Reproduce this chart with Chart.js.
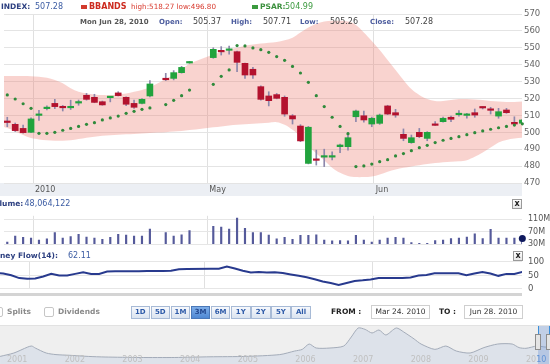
<!DOCTYPE html>
<html>
<head>
<meta charset="utf-8">
<script src="https://cdn.jsdelivr.net/npm/chart.js@4.4.1/dist/chart.umd.min.js"></script>
<style>
  html, body { margin:0; padding:0; background:#fff; }
  body { width:550px; height:364px; overflow:hidden; position:relative; font-family:"DejaVu Sans", Verdana, sans-serif; }
  canvas { position:absolute; left:0; z-index:2; }
  .t { position:absolute; white-space:nowrap; line-height:10px; z-index:5; }
  .b { font-weight:bold; font-size:7.5px; }
  .v { font-size:8px; }
  .btn { position:absolute; top:305.5px; width:19.5px; height:13px; box-sizing:border-box; border:1px solid #a7bad6;
         background:linear-gradient(#f6f8fc,#dbe4f0); color:#2d5aa8; font-weight:bold; font-size:7px; line-height:11px; text-align:center; z-index:5; }
  .btn.sel { background:linear-gradient(#7eaee8,#4f88d4); border-color:#4a78b8; color:#23488f; }
  .box { position:absolute; top:305px; height:14px; box-sizing:border-box; border:1px solid #cfcfcf; background:#fff; font-size:7.5px; line-height:12px; color:#333; text-align:center; z-index:5; }
  .xb { position:absolute; width:10px; height:10px; box-sizing:border-box; border:1px solid #9a9a9a; background:linear-gradient(#fff,#e6e6e6); font-size:8px; font-weight:bold; line-height:8px; text-align:center; color:#222; z-index:5; }
  .chk { position:absolute; top:307px; width:10px; height:10px; box-sizing:border-box; border:1px solid #c6c6c6; border-radius:2px; background:#fff; z-index:5; }
</style>
</head>
<body>
<div style="position:absolute;left:0;top:183px;width:522px;height:13px;background:#eceff4;z-index:1"></div>
<div style="position:absolute;left:0;top:293px;width:522px;height:3px;background:#d4d4d4;z-index:1"></div>
<div style="position:absolute;left:0;top:325px;width:550px;height:39px;background:#efefef;border-top:1px solid #e2e2e2;z-index:1"></div>

<canvas id="main" width="550" height="196" style="top:0"></canvas>
<canvas id="vol" width="550" height="50" style="top:205px"></canvas>
<canvas id="mf" width="550" height="50" style="top:250px"></canvas>
<canvas id="nav" width="550" height="39" style="top:325px"></canvas>

<!-- header row 1 -->
<span class="t b" style="left:1px;top:1.7px;color:#2c3f80">INDEX:</span>
<span class="t v" style="left:35px;top:1.7px;color:#3c5ca3">507.28</span>
<span style="position:absolute;left:81px;top:4.5px;width:6px;height:4px;background:#d23a2c;z-index:5"></span>
<span class="t b" style="left:89px;top:1.7px;color:#cc2b1f;font-size:8px">BBANDS</span>
<span class="t" style="left:131px;top:1.7px;color:#d8392d;font-size:7.2px">high:518.27 low:496.80</span>
<span style="position:absolute;left:252px;top:4.5px;width:6px;height:4px;background:#3b9a3e;z-index:5"></span>
<span class="t b" style="left:260px;top:1.7px;color:#3a8f3c">PSAR:</span>
<span class="t v" style="left:285px;top:1.7px;color:#3d9a40">504.99</span>

<!-- header row 2 -->
<span class="t" style="left:80px;top:16.7px;color:#555;font-weight:bold;font-size:7px">Mon Jun 28, 2010</span>
<span class="t" style="left:159px;top:16.7px;color:#4d5d9e;font-weight:bold;font-size:7px">Open:</span>
<span class="t v" style="left:193px;top:16.7px;color:#444">505.37</span>
<span class="t" style="left:231px;top:16.7px;color:#4d5d9e;font-weight:bold;font-size:7px">High:</span>
<span class="t v" style="left:263px;top:16.7px;color:#444">507.71</span>
<span class="t" style="left:300px;top:16.7px;color:#4d5d9e;font-weight:bold;font-size:7px">Low:</span>
<span class="t v" style="left:330px;top:16.7px;color:#444">505.26</span>
<span class="t" style="left:370px;top:16.7px;color:#4d5d9e;font-weight:bold;font-size:7px">Close:</span>
<span class="t v" style="left:405px;top:16.7px;color:#444">507.28</span>

<!-- volume header -->
<span class="t b" style="left:-11px;top:199px;color:#2c3f80">Volume:</span>
<span class="t v" style="left:24.5px;top:199px;color:#3c5ca3">48,064,122</span>
<div class="xb" style="left:512px;top:199px">x</div>

<!-- money flow header -->
<span class="t b" style="left:-12.6px;top:251px;color:#2c3f80">Money Flow(14):</span>
<span class="t v" style="left:68px;top:251px;color:#3c5ca3">62.11</span>
<div class="xb" style="left:513px;top:250.5px">x</div>

<!-- controls -->
<div class="chk" style="left:-7px"></div>
<span class="t b" style="left:7px;top:307px;color:#8a8a8a">Splits</span>
<div class="chk" style="left:44px"></div>
<span class="t b" style="left:58px;top:307px;color:#8a8a8a">Dividends</span>
<div id="btns"></div>
<span class="t" style="left:331px;top:307px;color:#222;font-weight:bold;font-size:7.5px">FROM :</span>
<div class="box" style="left:371px;width:59px">Mar 24. 2010</div>
<span class="t" style="left:439px;top:307px;color:#222;font-weight:bold;font-size:7.5px">TO :</span>
<div class="box" style="left:464px;width:59px">Jun 28. 2010</div>

<!-- navigator selection -->
<div style="position:absolute;left:538px;top:326px;width:11px;height:38px;background:rgba(110,150,215,0.35);z-index:3"></div>
<div style="position:absolute;left:537.5px;top:326px;width:1px;height:9px;background:#3c8fd8;z-index:4"></div>
<div style="position:absolute;left:548.5px;top:326px;width:1px;height:9px;background:#3c8fd8;z-index:4"></div>
<div style="position:absolute;left:535px;top:334px;width:6px;height:16px;box-sizing:border-box;border:1px solid #8d8d8d;background:#e4e4e4;z-index:4"></div>
<div style="position:absolute;left:546px;top:334px;width:6px;height:16px;box-sizing:border-box;border:1px solid #8d8d8d;background:#e4e4e4;z-index:4"></div>

<script>
// ---------- data ----------
const dates = [
 '03-26','03-29','03-30','03-31','04-01','04-02','04-05','04-06','04-07','04-08',
 '04-09','04-12','04-13','04-14','04-15','04-16','04-19','04-20','04-21','04-22',
 '04-23','04-26','04-27','04-28','04-29','04-30','05-03','05-04','05-05','05-06',
 '05-07','05-10','05-11','05-12','05-13','05-14','05-17','05-18','05-19','05-20',
 '05-21','05-24','05-25','05-26','05-27','05-28','05-31','06-01','06-02','06-03',
 '06-04','06-07','06-08','06-09','06-10','06-11','06-14','06-15','06-16','06-17',
 '06-18','06-21','06-22','06-23','06-24','06-25','06-28'];

const open = [
 null, 506.0, 504.7, 502.3, 500.0, 510.0, 514.0, 517.1, 514.8, 514.5,
 517.3, 521.9, 520.7, 518.1, 520.5, 523.3, 520.7, 517.1, 517.1, 521.5,
 null, 531.4, 531.9, 535.3, 541.0, null, null, 544.2, 548.0, 548.5,
 547.7, 540.8, 537.3, 527.0, 521.5, 522.3, 520.7, 509.8, 503.7, 481.6,
 483.8, 485.3, 485.3, 491.5, 491.5, 509.2, 509.8, 504.9, 505.3, 515.6,
 511.6, 498.8, 493.9, 500.0, 496.4, 504.9, 506.3, 508.9, 510.4, 510.0,
 511.6, 514.8, 513.4, 509.6, 513.2, 505.9, 505.37];
const high = [
 null, 508.9, 505.5, 504.3, 508.5, 513.0, 515.6, 519.5, 515.9, 519.0,
 519.1, 523.0, 522.5, 518.5, 521.0, 524.0, 521.0, 519.1, 520.0, 530.6,
 null, 534.9, 536.5, 539.0, 542.0, null, null, 550.0, 550.7, 551.0,
 548.0, 541.0, 538.4, 527.5, 524.0, 523.0, 521.5, 510.5, 504.5, 503.5,
 489.5, 490.0, 488.5, 493.0, 499.8, 513.2, 512.5, 509.0, 510.8, 516.0,
 513.6, 502.0, 498.4, 502.3, 500.4, 506.3, 509.0, 509.6, 512.8, 511.2,
 513.8, 515.2, 514.8, 514.2, 514.2, 509.2, 507.71];
const low = [
 null, 503.3, 500.5, 499.5, 499.8, 507.0, 513.2, 514.0, 512.6, 513.5,
 516.0, 519.0, 517.5, 516.0, 518.0, 521.5, 515.8, 514.2, 516.8, 521.0,
 null, 530.6, 531.0, 535.0, 540.8, null, null, 543.8, 545.7, 546.3,
 535.9, 531.9, 531.9, 519.0, 515.6, 519.8, 509.5, 504.9, 494.5, 481.3,
 480.6, 479.7, 483.6, 488.0, 489.5, 506.3, 506.0, 503.3, 504.7, 510.5,
 508.9, 495.0, 493.5, 496.8, 495.0, 504.0, 506.0, 506.3, 509.6, 508.3,
 508.9, 513.8, 510.8, 508.3, 511.2, 504.3, 505.26];
const close = [
 null, 505.8, 501.0, 499.8, 507.9, 510.3, 514.3, 515.2, 514.5, 514.7,
 517.6, 519.5, 517.7, 516.2, 520.8, 521.7, 516.6, 514.8, 519.5, 528.6,
 null, 531.1, 535.3, 538.4, 541.8, null, null, 549.1, 547.6, 548.8,
 541.4, 533.9, 533.9, 519.5, 518.7, 520.1, 510.8, 507.9, 494.9, 503.0,
 483.4, 486.0, 486.0, 492.5, 496.8, 512.6, 507.3, 508.3, 510.2, 510.8,
 510.2, 496.4, 496.8, 497.4, 500.0, 504.1, 508.3, 507.7, 510.8, 510.3,
 510.2, 514.4, 513.0, 512.2, 511.6, 504.9, 507.28];

const bbUpper = [
 533.5, 533.3, 533.3, 533.3, 533.2, 532.9, 532.3, 531.0, 529.0, 526.0,
 524.0, 523.0, 522.4, 522.0, 522.0, 522.4, 523.0, 524.0, 525.0, 526.6,
 null, 531.5, 534.0, 537.0, 540.5, null, null, 546.0, 547.5, 549.0,
 550.0, 551.2, 552.0, 552.5, 553.0, 553.5, 554.5, 556.0, 559.0, 562.0,
 564.2, 565.5, 566.0, 566.0, 565.5, 563.5, 559.0, 554.0, 548.7, 542.8,
 536.9, 531.0, 525.6, 522.1, 519.7, 518.5, 518.5, 519.1, 519.7, 519.7,
 519.4, 519.1, 518.5, 518.2, 517.9, 517.9, 518.27];
const bbLower = [
 503.8, 502.5, 500.5, 498.4, 496.6, 495.8, 495.3, 495.0, 495.0, 495.3,
 496.0, 496.8, 497.4, 498.0, 498.3, 498.6, 498.8, 499.0, 499.3, 499.6,
 null, 500.0, 500.4, 500.8, 501.3, null, null, 503.0, 503.5, 504.0,
 504.4, 504.8, 505.1, 505.4, 505.7, 506.0, 504.5, 501.5, 497.5, 492.0,
 487.5, 483.5, 479.0, 476.0, 474.2, 473.5, 473.5, 473.8, 475.0, 476.7,
 478.0, 479.0, 479.8, 480.5, 481.2, 481.8, 482.3, 482.6, 482.8, 483.5,
 485.5, 488.0, 491.0, 494.0, 495.5, 496.3, 496.8];
const psar = [
 524.4, 522.1, 519.7, 516.9, 514.2, 499.4, 499.4, 500.0, 501.2, 502.3,
 503.5, 504.7, 505.7, 507.3, 508.5, 509.6, 511.2, 512.4, 513.6, 514.4,
 null, 516.4, 518.9, 521.7, 525.0, null, null, 528.4, 533.1, 536.9,
 551.3, 551.1, 549.9, 548.9, 547.3, 544.8, 542.6, 539.0, 535.1, 529.6,
 521.7, 515.2, 508.9, 503.5, 499.2, 479.7, 480.1, 481.2, 482.6, 483.8,
 486.0, 487.4, 489.1, 490.9, 492.3, 493.9, 495.3, 496.4, 497.4, 498.6,
 499.8, 500.8, 501.8, 502.7, 503.5, 504.3, 504.99];
const volumeM = [
 null, 36.8, 56.0, 51.8, 50.0, 43.0, 47.4, 67.6, 49.9, 54.5,
 61.5, 53.0, 50.0, 45.7, 51.8, 61.5, 59.0, 56.0, 56.0, 79.0,
 null, 67.6, 56.0, 60.0, 73.7, null, null, 87.8, 85.3, 79.0,
 114.0, 80.8, 67.6, 67.6, 59.0, 47.4, 51.8, 45.8, 58.9, 58.9,
 60.5, 43.1, 40.5, 41.3, 40.5, 58.9, 43.1, 36.8, 43.1, 50.0,
 51.8, 50.0, 35.3, 32.6, 32.6, 41.3, 43.1, 48.4, 50.0, 52.6,
 63.2, 48.4, 78.2, 50.0, 50.0, 50.0, 48.064122];
const moneyFlow = [
 60.0, 56.3, 50.0, 39.7, 37.6, 38.6, 45.9, 55.2, 49.0, 49.0,
 55.2, 61.5, 55.2, 55.2, 63.6, 64.7, 64.7, 64.7, 64.7, 65.8,
 null, 65.8, 66.9, 72.1, 73.1, null, null, 74.2, 74.2, 82.4,
 75.2, 66.9, 60.7, 61.7, 60.7, 61.5, 58.4, 53.2, 48.0, 42.8,
 35.5, 27.2, 22.0, 14.7, 22.0, 29.3, 31.4, 34.5, 39.7, 39.7,
 39.7, 39.7, 41.8, 49.0, 51.1, 57.3, 57.3, 57.3, 57.3, 50.0,
 56.3, 62.5, 56.3, 48.0, 55.2, 55.2, 62.11];

const monthTickDates = ['04-01', '05-03', '06-01'];
const monthTickLabels = ['2010', 'May', 'Jun'];
const volumeTicks = [30, 70, 110];
const mfTicks = [0, 50, 100];

const navTime = [
 2000.88, 2001.12, 2001.36, 2001.43, 2001.49, 2001.68, 2001.85, 2002.09, 2002.41, 2002.70,
 2003.31, 2003.91, 2004.52, 2005.13, 2005.73, 2005.99, 2006.12, 2006.24, 2006.36, 2006.60,
 2006.84, 2006.97, 2007.09, 2007.21, 2007.33, 2007.45, 2007.57, 2007.75, 2007.88, 2008.06,
 2008.18, 2008.42, 2008.61, 2008.79, 2009.03, 2009.27, 2009.51, 2009.76, 2009.88, 2010.00,
 2010.19, 2010.33, 2010.42];
const navLevel = [
 15.1, 24.3, 40.5, 43.2, 37.8, 24.3, 20.0, 18.1, 15.1, 13.5,
 12.2, 12.2, 14.1, 15.1, 20.0, 29.7, 34.1, 48.6, 37.8, 37.8,
 43.2, 67.6, 91.9, 88.1, 78.4, 86.5, 73.0, 91.9, 81.1, 62.2,
 48.6, 34.1, 43.2, 29.7, 24.3, 38.9, 48.6, 48.6, 38.9, 37.0,
 43.2, 40.5, 40.5];
const navYears = [2001, 2002, 2003, 2004, 2005, 2006, 2007, 2008, 2009, 2010];
const rangeButtons = ['1D', '5D', '1M', '3M', '6M', '1Y', '2Y', '5Y', 'All'];
const selectedRange = '3M';

// ---------- buttons ----------
const btnHost = document.getElementById('btns');
rangeButtons.forEach((b, i) => {
  const d = document.createElement('div');
  d.className = 'btn' + (b === selectedRange ? ' sel' : '');
  d.style.left = (130.5 + i * 20.1) + 'px';
  d.textContent = b;
  btnHost.appendChild(d);
});

// ---------- charts ----------
Chart.defaults.font.family = '"DejaVu Sans", Verdana, sans-serif';
Chart.defaults.animation = false;

const X_MIN = 0.587, X_MAX = 65.96;
const monthPos = monthTickDates.map(d => dates.indexOf(d) + 0.25);
const GREEN = '#21a33d', RED = '#b3122e', WICK = '#8d87ab';

function xAxis(showLabels) {
  return {
    type: 'linear', min: X_MIN, max: X_MAX, offset: false,
    afterBuildTicks: s => { s.ticks = monthPos.map(v => ({ value: v })); },
    afterFit: s => { s.height = showLabels ? 13 : 0; },
    grid: { color: '#e0e0e0', drawTicks: false, offset: false },
    border: { display: false },
    ticks: {
      display: showLabels, autoSkip: false, maxRotation: 0, align: 'start',
      labelOffset: 2, padding: 2.5, color: '#555', font: { size: 8 },
      callback: (v, i) => monthTickLabels[i]
    }
  };
}
const common = {
  responsive: false, devicePixelRatio: 1, animation: false,
  plugins: { legend: { display: false }, tooltip: { enabled: false } }
};
const pts = arr => arr.map((v, i) => ({ x: i, y: v }));

const candles = [], wicks = [];
dates.forEach((d, i) => {
  if (open[i] == null) return;
  candles.push({ x: i, y: [open[i], close[i]], up: close[i] >= open[i] });
  wicks.push({ x: i, y: [low[i], high[i]] });
});

new Chart(document.getElementById('main'), {
  type: 'bar',
  data: {
    datasets: [
      { type: 'line', data: pts(bbUpper), fill: '+1', backgroundColor: 'rgba(238,120,110,0.33)',
        borderColor: 'transparent', borderWidth: 0, pointRadius: 0, spanGaps: true, tension: 0.35, order: 10 },
      { type: 'line', data: pts(bbLower), fill: false, borderColor: 'transparent', borderWidth: 0,
        pointRadius: 0, spanGaps: true, tension: 0.35, order: 10 },
      { type: 'bar', data: wicks, backgroundColor: WICK, barThickness: 1, grouped: false, clip: 0, order: 5 },
      { type: 'bar', data: candles, backgroundColor: c => (c.raw && c.raw.up) ? GREEN : RED,
        barThickness: 6, minBarLength: 1.5, grouped: false, clip: 0, order: 4 },
      { type: 'line', data: pts(psar), showLine: false, pointRadius: 1.6, pointBorderWidth: 0,
        pointBackgroundColor: '#2f8a3b', clip: false, order: 1 }
    ]
  },
  options: Object.assign({}, common, {
    layout: { padding: { top: 14, left: 0, right: 0, bottom: 0 } },
    scales: {
      x: xAxis(true),
      y: { position: 'right', min: 470, max: 570, afterFit: s => { s.width = 28; },
           grid: { color: '#e4e4e4', drawTicks: false }, border: { display: false },
           ticks: { stepSize: 10, padding: 2, color: '#666', font: { size: 8.5 } } }
    }
  })
});

new Chart(document.getElementById('vol'), {
  type: 'bar',
  data: {
    datasets: [
      { type: 'line', data: [{ x: volumeM.length - 1, y: volumeM[volumeM.length - 1] }], showLine: false,
        pointRadius: 3.5, pointBorderWidth: 0, pointBackgroundColor: '#0f1a5e', clip: false, order: 0 },
      { type: 'bar', data: pts(volumeM).filter(p => p.y != null), backgroundColor: '#555a9a',
        barThickness: 1.5, base: 30, grouped: false, clip: 0, order: 2 }
    ]
  },
  options: Object.assign({}, common, {
    layout: { padding: { top: 5, left: 0, right: 0, bottom: 10.7 } },
    scales: {
      x: xAxis(false),
      y: { position: 'right', min: 30, max: 121.5, afterFit: s => { s.width = 28; },
           afterBuildTicks: s => { s.ticks = volumeTicks.map(v => ({ value: v })); },
           grid: { color: '#e6e6e6', drawTicks: false }, border: { display: false },
           ticks: { padding: 6, color: '#555', font: { size: 8 }, callback: v => v + 'M' } }
    }
  })
});

new Chart(document.getElementById('mf'), {
  type: 'line',
  data: {
    datasets: [
      { data: pts(moneyFlow), borderColor: '#283a8e', borderWidth: 2, pointRadius: 0, spanGaps: true, tension: 0 }
    ]
  },
  options: Object.assign({}, common, {
    layout: { padding: { top: 11.7, left: 0, right: 0, bottom: 6.3 } },
    scales: {
      x: xAxis(false),
      y: { position: 'right', min: 0, max: 100, afterFit: s => { s.width = 28; },
           afterBuildTicks: s => { s.ticks = mfTicks.map(v => ({ value: v })); },
           grid: { color: '#e6e6e6', drawTicks: false }, border: { display: false },
           ticks: { padding: 6, color: '#555', font: { size: 8.5 } } }
    }
  })
});

// year labels of the navigator, placed with the navigator's own x scale
const navYearLabels = {
  id: 'navYearLabels',
  afterDatasetsDraw(chart) {
    const ctx = chart.ctx, xs = chart.scales.x;
    ctx.save();
    ctx.font = '8px "DejaVu Sans", Verdana, sans-serif';
    ctx.textBaseline = 'middle';
    ctx.textAlign = 'left';
    navYears.forEach(y => {
      const px = xs.getPixelForValue(y);
      const s = String(y);
      if (y === navYears[navYears.length - 1]) {
        const head = s.slice(0, 2);
        ctx.fillStyle = '#c0c0c0';
        ctx.fillText(head, px, 35);
        ctx.fillStyle = '#5d93d6';
        ctx.fillText(s.slice(2), px + ctx.measureText(head).width, 35);
      } else {
        ctx.fillStyle = '#c0c0c0';
        ctx.fillText(s, px, 35);
      }
    });
    ctx.restore();
  }
};

new Chart(document.getElementById('nav'), {
  type: 'line',
  data: {
    datasets: [
      { data: navTime.map((t, i) => ({ x: t, y: navLevel[i] })), fill: 'start',
        backgroundColor: '#dde2ea', borderColor: '#a3abb8', borderWidth: 1, pointRadius: 0, tension: 0.25 }
    ]
  },
  options: Object.assign({}, common, {
    layout: { padding: 0 },
    scales: {
      x: { type: 'linear', display: false, min: 2000.879, max: 2010.416, offset: false },
      y: { display: false, min: -5.4, max: 100 }
    }
  }),
  plugins: [navYearLabels]
});
</script>
</body>
</html>
